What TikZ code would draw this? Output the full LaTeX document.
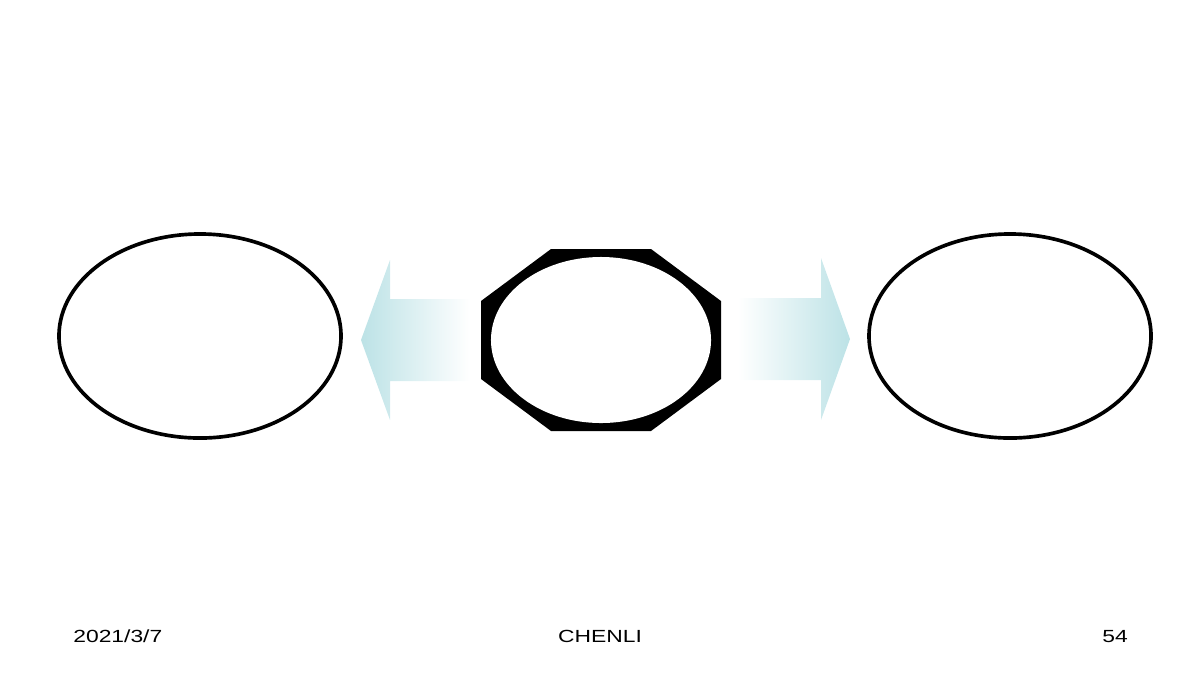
\documentclass[tikz,border=0pt]{standalone}
\usepackage{fontspec}
\setmainfont{Liberation Sans}
\usetikzlibrary{shapes.geometric}
\definecolor{arrowblue}{RGB}{188,226,230}

\begin{document}
\begin{tikzpicture}[
    x=0.025cm, y=-0.025cm,
    oval/.style={ellipse, draw=black, line width=2.6pt, minimum width=7.05cm, minimum height=5.1cm, inner sep=0pt},
    footer/.style={font=\fontsize{12.5}{14}\selectfont, xscale=1.3, inner sep=0pt, anchor=base},
    flow/.style={draw=none}
]
\useasboundingbox (0,0) rectangle (1200,680);

% Ovals
\node[oval] (left) at (200,336) {};
\node[oval] (right) at (1010,336) {};

% Octagon with hole
\fill[black] (551,249) -- (651,249) -- (721,301) -- (721,379) -- (651,431)
    -- (551,431) -- (481,379) -- (481,301) -- cycle;
\node[ellipse, fill=white, minimum width=5.5cm, minimum height=4.15cm, inner sep=0pt] (hub) at (601,340) {};

% Arrows
\shade[flow, left color=arrowblue, right color=white]
    (361,340) -- (390,260) -- (390,299) -- (470,299) -- (470,381) -- (390,381) -- (390,420) -- cycle;
\shade[flow, left color=white, right color=arrowblue]
    (850,339) -- (821,258) -- (821,298) -- (738,298) -- (738,380) -- (821,380) -- (821,420) -- cycle;

% Footer
\node[footer, anchor=base west] (date) at (73,642) {2021/3/7};
\node[footer] (name) at (600,642) {CHENLI};
\node[footer] (page) at (1115,642) {54};

\end{tikzpicture}
\end{document}
